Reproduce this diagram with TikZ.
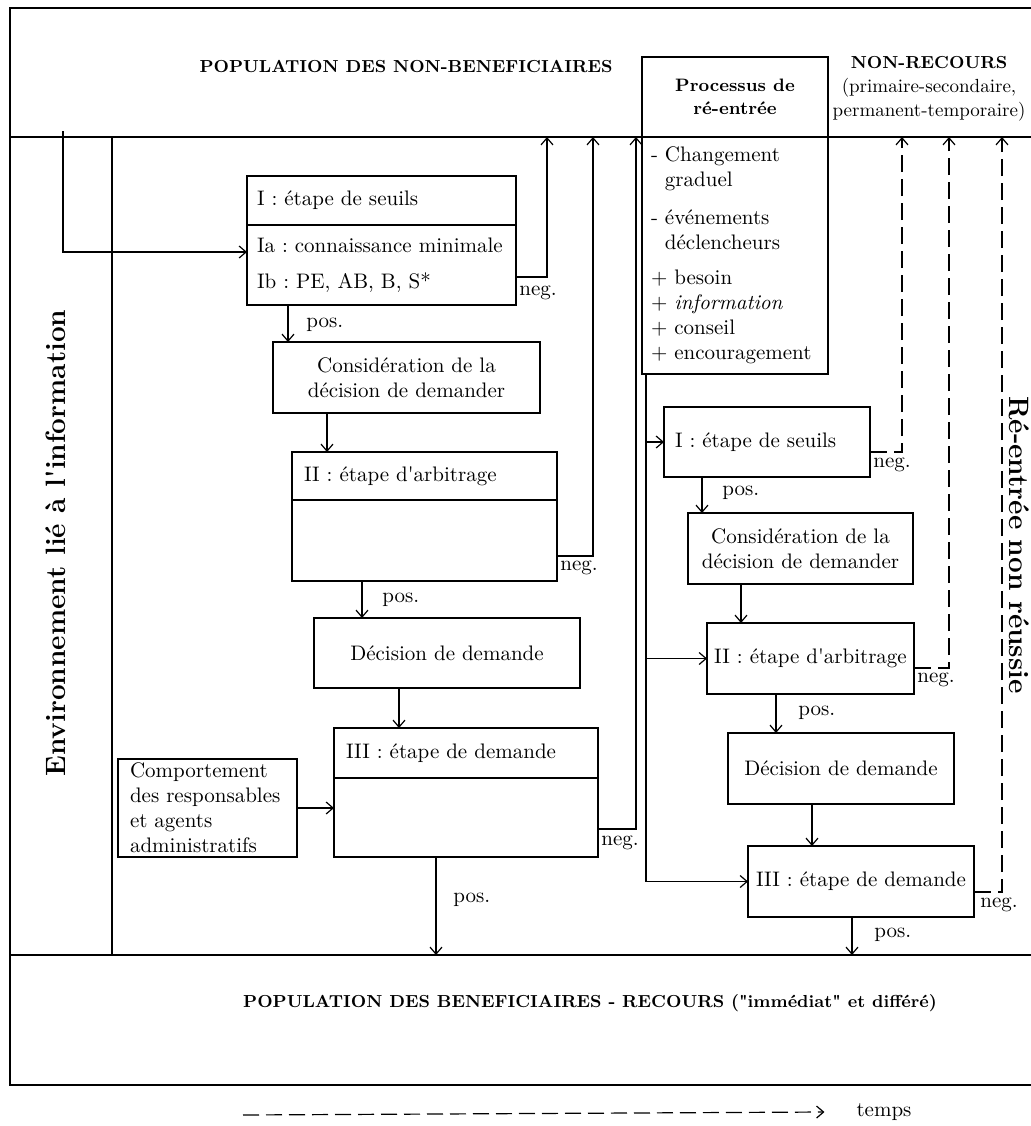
\documentclass[tikz,border=0pt]{standalone}
\usepackage{tikz}
\usetikzlibrary{arrows.meta, calc}
\newcommand{\fTexte}{\fontsize{10.5}{12.5}\selectfont}
\newcommand{\fPetit}{\fontsize{9.5}{12}\selectfont}
\newcommand{\fTitre}{\fontsize{8.7}{10.5}\selectfont\bfseries}
\newcommand{\fProc}{\fontsize{9}{11.5}\selectfont\bfseries}
\newcommand{\fVert}{\fontsize{14}{16}\selectfont\bfseries}
\newcommand{\apo}{\textquotesingle}
\tikzset{
  cadre/.style = {line width=0.9pt},
  bx/.style = {draw, line width=0.9pt, inner sep=0pt, outer sep=0pt, align=center, font=\fTexte},
  arr/.style = {line width=0.6pt, -{Straight Barb[length=3.5pt, width=6pt]}},
  tir/.style = {arr, dash pattern=on 8.5pt off 3.5pt},
  lbl/.style = {font=\fTexte, inner sep=1pt, anchor=west}
}
\frenchspacing

\begin{document}
\begin{tikzpicture}[x=0.5pt, y=-0.5pt]
\useasboundingbox (0,0) rectangle (1031,1126);
\clip (0,0) rectangle (1031,1126);

\draw[cadre] (1040,8) -- (10,8) -- (10,1085) -- (1040,1085);
\draw[cadre] (10,137) -- (1040,137);
\draw[cadre] (10,955) -- (1040,955);
\draw[line width=0.6pt] (112,137) -- (112,955);
\coordinate (haut) at (0,137);
\coordinate (bas) at (0,955);
\coordinate (entree) at (63,131);
\coordinate (t0) at (243,1115);

\node[font=\fTitre] (nonben) at (406,67) {POPULATION DES NON-BENEFICIAIRES};
\node[font=\fPetit, align=center] (nonrec) at (929,89) {{\fTitre NON-RECOURS}\\(primaire-secondaire,\\permanent-temporaire)};
\node[font=\fTitre] (ben) at (590,1003) {POPULATION DES BENEFICIAIRES - RECOURS (\textquotedbl immédiat\textquotedbl{} et différé)};
\node[font=\fVert, rotate=90, anchor=base] (env) at (65,543) {Environnement lié à l\apo information};
\node[font=\fVert, rotate=-90, anchor=base] (reent) at (1009,545) {Ré-entrée non réussie};
\node[font=\fTexte] (temps) at (884,1112) {temps};

\node[bx, minimum width=134.5pt, minimum height=24.5pt, text width=124.5pt, align=left] (s1h) at (381.5,200.5) {I : étape de seuils};
\node[bx, minimum width=134.5pt, minimum height=40pt, text width=124.5pt, align=left] (s1b) at (381.5,265) {\mbox{Ia : connaissance minimale}\\[5.5pt]Ib : PE, AB, B, S*};
\node[bx, minimum width=133.5pt, minimum height=35.5pt] (c1) at (406.5,377.5) {Considération de la\\décision de demander};
\node[bx, minimum width=132.5pt, minimum height=24pt, text width=120.5pt, align=left] (a1h) at (424.5,476) {II : étape d\apo arbitrage};
\node[bx, minimum width=132.5pt, minimum height=40.5pt] (a1b) at (424.5,540.5) {};
\node[bx, minimum width=133pt, minimum height=35pt] (d1) at (447,653) {Décision de demande};
\node[bx, minimum width=132pt, minimum height=25pt, text width=120pt, align=left] (r1h) at (466,753) {III : étape de demande};
\node[bx, minimum width=132pt, minimum height=39.5pt] (r1b) at (466,817.5) {};
\node[bx, minimum width=89.5pt, minimum height=49pt, text width=77.5pt, align=left] (comp) at (207.5,808) {Comportement\\\mbox{des responsables}\\et agents\\administratifs};

\node[bx, font=\fProc, minimum width=93pt, minimum height=40pt] (proch) at (735,97) {Processus de\\ré-entrée};
\node[bx, minimum width=93pt, minimum height=118.5pt, text width=84pt, align=left] (procb) at (735,255.5) {- Changement\\\hphantom{- }graduel\\[6.5pt]- événements\\\hphantom{- }déclencheurs\\[5pt]+ besoin\\+ \textit{information}\\+ conseil\\\mbox{+ encouragement}};
\node[bx, minimum width=103pt, minimum height=35pt, text width=92pt, align=left] (s2) at (767,442) {I : étape de seuils};
\node[bx, minimum width=112.5pt, minimum height=35.5pt] (c2) at (800.5,548.5) {Considération de la\\décision de demander};
\node[bx, minimum width=103.5pt, minimum height=35.5pt] (a2) at (810.5,658.5) {II : étape d\apo arbitrage};
\node[bx, minimum width=113pt, minimum height=35.5pt] (d2) at (841,768.5) {Décision de demande};
\node[bx, minimum width=113pt, minimum height=35.5pt] (r2) at (861,881.5) {III : étape de demande};

\draw[arr] (entree) |- ($(s1b.north west)+(0,27)$);
\draw[arr] ($(s1b.south east)+(0,-28)$) -| ($(haut)+(547,0)$);
\draw[arr] ($(s1b.south west)+(41,0)$) -- ($(c1.north west)+(15,0)$);
\draw[arr] ($(c1.south west)+(54,0)$) -- ($(a1h.north west)+(35,0)$);
\draw[arr] ($(a1b.south east)+(0,-25)$) -| ($(haut)+(593,0)$);
\draw[arr] ($(a1b.south west)+(70,0)$) -- ($(d1.north west)+(48,0)$);
\draw[arr] ($(d1.south west)+(85,0)$) -- ($(r1h.north west)+(65,0)$);
\draw[arr] (comp.east) -- (comp.east -| r1b.west);
\draw[arr] ($(r1b.south east)+(0,-28)$) -| ($(haut)+(636,0)$);
\draw[arr] ($(r1b.south west)+(102,0)$) -- ($(bas)+(436,0)$);

\draw[arr] ($(procb.south west)+(4,0)$) |- (r2.west);
\draw[arr] ($(s2.west -| procb.west)+(4,0)$) -- (s2.west);
\draw[arr] ($(a2.west -| procb.west)+(4,0)$) -- (a2.west);
\draw[tir] ($(s2.south east)+(0,-25)$) -| ($(haut)+(902,0)$);
\draw[arr] ($(s2.south west)+(38,0)$) -- ($(c2.north west)+(14,0)$);
\draw[arr] ($(c2.south west)+(53,0)$) -- ($(a2.north west)+(34,0)$);
\draw[tir] ($(a2.south east)+(0,-26)$) -| ($(haut)+(949,0)$);
\draw[arr] ($(a2.south west)+(69,0)$) -- ($(d2.north west)+(48,0)$);
\draw[arr] ($(d2.south west)+(84,0)$) -- ($(r2.north west)+(64,0)$);
\draw[tir] ($(r2.south east)+(0,-25)$) -| ($(haut)+(1002,0)$);
\draw[arr] ($(r2.south west)+(104,0)$) -- ($(bas)+(852,0)$);
\draw[arr, dash pattern=on 8pt off 3.5pt] (t0) -- ($(temps.west)+(-25,0)$);

\node[lbl] (neg1) at ($(s1b.south east)+(1,-12)$) {neg.};
\node[lbl] (pos1) at ($(s1b.south west)+(57,20)$) {pos.};
\node[lbl] (neg2) at ($(a1b.south east)+(1,-13)$) {neg.};
\node[lbl] (pos2) at ($(a1b.south west)+(88,19)$) {pos.};
\node[lbl] (neg3) at ($(r1b.south east)+(1,-14)$) {neg.};
\node[lbl] (pos3) at ($(r1b.south west)+(117,43)$) {pos.};
\node[lbl] (neg4) at ($(s2.south east)+(1,-12)$) {neg.};
\node[lbl] (pos4) at ($(s2.south west)+(56,16)$) {pos.};
\node[lbl] (neg5) at ($(a2.south east)+(1,-14)$) {neg.};
\node[lbl] (pos5) at ($(a2.south west)+(89,19)$) {pos.};
\node[lbl] (neg6) at ($(r2.south east)+(4,-12)$) {neg.};
\node[lbl] (pos6) at ($(r2.south west)+(124,18)$) {pos.};
\end{tikzpicture}
\end{document}
